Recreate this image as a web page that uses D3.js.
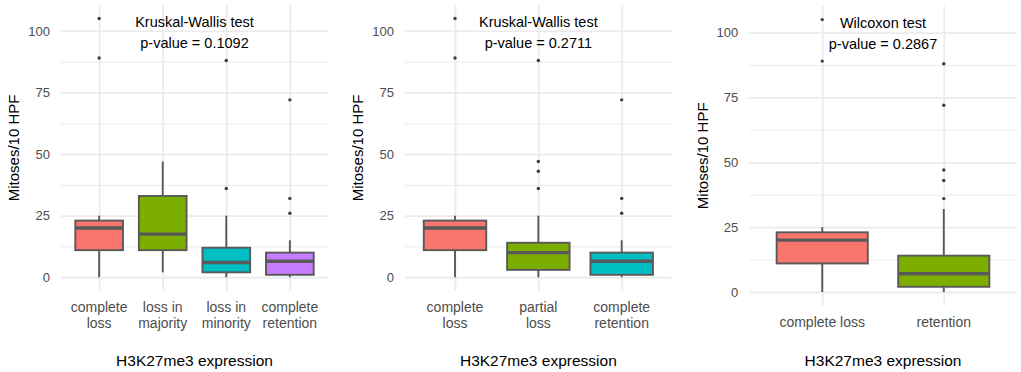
<!DOCTYPE html>
<html>
<head>
<meta charset="utf-8">
<script src="https://cdn.jsdelivr.net/npm/d3@7"></script>
<style>
  body { margin: 0; background: #fff; }
  text { font-family: "Liberation Sans", Arial, sans-serif; }
</style>
</head>
<body>
<div id="chart"></div>
<script>
// ---- data ----
const yTicks = [0, 25, 50, 75, 100];
const yMinorTicks = [12.5, 37.5, 62.5, 87.5];

// panel 1: four groups
const p1Categories = [["complete", "loss"], ["loss in", "majority"], ["loss in", "minority"], ["complete", "retention"]];
const p1Lower  = [0, 2, 0, 0];
const p1Q1     = [11, 11, 2, 1];
const p1Median = [20, 17.5, 6, 6.5];
const p1Q3     = [23, 33, 12, 10];
const p1Upper  = [25, 47, 25, 15];
const p1Outliers = [[89, 105], [], [36, 88], [26, 32, 72]];
const p1Test = ["Kruskal-Wallis test", "p-value = 0.1092"];

// panel 2: three groups
const p2Categories = [["complete", "loss"], ["partial", "loss"], ["complete", "retention"]];
const p2Lower  = [0, 0, 0];
const p2Q1     = [11, 3, 1];
const p2Median = [20, 10, 6.5];
const p2Q3     = [23, 14, 10];
const p2Upper  = [25, 25, 15];
const p2Outliers = [[89, 105], [36, 43, 47, 88], [26, 32, 72]];
const p2Test = ["Kruskal-Wallis test", "p-value = 0.2711"];

// panel 3: two groups
const p3Categories = [["complete loss"], ["retention"]];
const p3Lower  = [0, 0];
const p3Q1     = [11, 2];
const p3Median = [20, 7];
const p3Q3     = [23, 14];
const p3Upper  = [25, 32];
const p3Outliers = [[89, 105], [36, 43, 47, 72, 88]];
const p3Test = ["Wilcoxon test", "p-value = 0.2867"];

const fills = ["#F8766D", "#7CAE00", "#00BFC4", "#C77CFF"];

// ---- layout ----
const W = 1021, H = 372;
const svg = d3.select("#chart").append("svg")
    .attr("width", W)
    .attr("height", H);

const panels = [
    { left: 61, right: 328, top: 5.6, bottom: 290.2, cats: p1Categories, lo: p1Lower, q1: p1Q1, med: p1Median, q3: p1Q3, hi: p1Upper, out: p1Outliers, test: p1Test, testPos: 2.5 },
    { left: 405, right: 671.7, top: 5.6, bottom: 290.2, cats: p2Categories, lo: p2Lower, q1: p2Q1, med: p2Median, q3: p2Q3, hi: p2Upper, out: p2Outliers, test: p2Test, testPos: 2 },
    { left: 749.3, right: 1016.7, top: 6, bottom: 305.6, cats: p3Categories, lo: p3Lower, q1: p3Q1, med: p3Median, q3: p3Q3, hi: p3Upper, out: p3Outliers, test: p3Test, testPos: 1.5 }
];

const gridCol = "#ebebeb";
const lineCol = "#595959";

panels.forEach(p => {
    const g = svg.append("g");
    const n = p.cats.length;
    const idx = d3.range(1, n + 1);

    // y range with ggplot-like 5% expansion
    const allVals = p.lo.concat(p.hi, ...p.out);
    const yMin = d3.min(allVals), yMax = d3.max(allVals);
    const pad = (yMax - yMin) * 0.05;
    const y = d3.scaleLinear()
        .domain([yMin - pad, yMax + pad])
        .range([p.bottom, p.top]);

    const x = d3.scalePoint()
        .domain(idx)
        .range([p.left, p.right])
        .padding(0.6);
    const boxW = x.step() * 0.75;

    // xpos for fractional positions (annotation)
    const xPos = v => x(1) + (v - 1) * x.step();

    // minor grid
    g.append("g")
        .attr("transform", `translate(${p.left},0)`)
        .call(d3.axisLeft(y).tickValues(yMinorTicks).tickSize(-(p.right - p.left)).tickFormat(""))
        .call(a => a.select(".domain").remove())
        .call(a => a.selectAll("line").attr("stroke", gridCol).attr("stroke-width", 1));

    // major grid + y tick labels
    g.append("g")
        .attr("transform", `translate(${p.left},0)`)
        .call(d3.axisLeft(y).tickValues(yTicks).tickSize(-(p.right - p.left)).tickPadding(11))
        .call(a => a.select(".domain").remove())
        .call(a => a.selectAll("line").attr("stroke", gridCol).attr("stroke-width", 1.8))
        .call(a => a.selectAll("text")
            .attr("fill", "#4d4d4d")
            .style("font-size", "13px")
            .style("font-family", "'Liberation Sans', Arial, sans-serif"));

    // vertical grid
    g.append("g")
        .attr("transform", `translate(0,${p.bottom})`)
        .call(d3.axisBottom(x).tickSize(-(p.bottom - p.top)).tickFormat(""))
        .call(a => a.select(".domain").remove())
        .call(a => a.selectAll("line").attr("stroke", gridCol).attr("stroke-width", 1.8));

    // x tick labels (multi-line)
    idx.forEach((d, i) => {
        const t = g.append("text")
            .attr("x", x(d))
            .attr("y", p.bottom + 16.8 + 5)
            .attr("text-anchor", "middle")
            .attr("fill", "#4d4d4d")
            .style("font-size", "14px");
        p.cats[i].forEach((line, j) => {
            t.append("tspan").attr("x", x(d)).attr("dy", j === 0 ? 0 : 16).text(line);
        });
    });

    // whiskers
    g.selectAll(".whisk").data(idx).enter().append("line")
        .attr("x1", d => x(d)).attr("x2", d => x(d))
        .attr("y1", (d, i) => y(p.hi[i])).attr("y2", (d, i) => y(p.q3[i]))
        .attr("stroke", lineCol).attr("stroke-width", 1.9);
    g.selectAll(".whisk2").data(idx).enter().append("line")
        .attr("x1", d => x(d)).attr("x2", d => x(d))
        .attr("y1", (d, i) => y(p.q1[i])).attr("y2", (d, i) => y(p.lo[i]))
        .attr("stroke", lineCol).attr("stroke-width", 1.9);

    // boxes
    g.selectAll(".box").data(idx).enter().append("rect")
        .attr("x", d => x(d) - boxW / 2)
        .attr("width", boxW)
        .attr("y", (d, i) => y(p.q3[i]))
        .attr("height", (d, i) => y(p.q1[i]) - y(p.q3[i]))
        .attr("fill", (d, i) => fills[i])
        .attr("stroke", lineCol)
        .attr("stroke-width", 1.9);

    // medians
    g.selectAll(".med").data(idx).enter().append("line")
        .attr("x1", d => x(d) - boxW / 2).attr("x2", d => x(d) + boxW / 2)
        .attr("y1", (d, i) => y(p.med[i])).attr("y2", (d, i) => y(p.med[i]))
        .attr("stroke", lineCol).attr("stroke-width", 3.4);

    // outliers
    idx.forEach((d, i) => {
        g.selectAll(null).data(p.out[i]).enter().append("circle")
            .attr("cx", x(d))
            .attr("cy", v => y(v))
            .attr("r", 1.7)
            .attr("fill", "#3d3d3d");
    });

    // test annotation
    const ty = y(99.5);
    g.append("text")
        .attr("x", xPos(p.testPos))
        .attr("y", ty - 10.5)
        .attr("dy", "0.35em")
        .attr("text-anchor", "middle")
        .attr("fill", "#000")
        .style("font-size", "14.5px")
        .text(p.test[0]);
    g.append("text")
        .attr("x", xPos(p.testPos))
        .attr("y", ty + 10.5)
        .attr("dy", "0.35em")
        .attr("text-anchor", "middle")
        .attr("fill", "#000")
        .style("font-size", "14.5px")
        .text(p.test[1]);

    // axis titles
    g.append("text")
        .attr("transform", `translate(${p.left - 47},${(p.top + p.bottom) / 2}) rotate(-90)`)
        .attr("dy", "0.35em")
        .attr("text-anchor", "middle")
        .attr("fill", "#000")
        .style("font-size", "15px")
        .text("Mitoses/10 HPF");
    g.append("text")
        .attr("x", (p.left + p.right) / 2)
        .attr("y", 361)
        .attr("dy", "0.35em")
        .attr("text-anchor", "middle")
        .attr("fill", "#000")
        .style("font-size", "15.5px")
        .text("H3K27me3 expression");
});
</script>
</body>
</html>
